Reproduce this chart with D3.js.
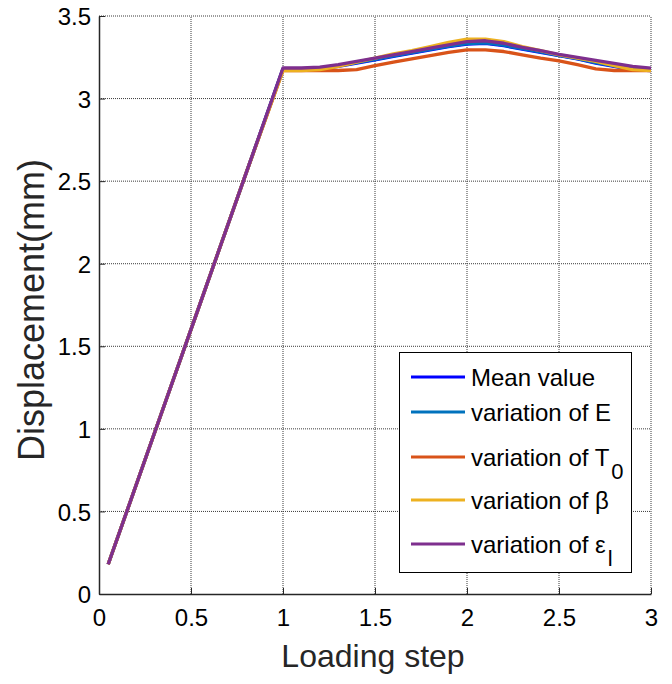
<!DOCTYPE html>
<html><head><meta charset="utf-8">
<script src="https://cdn.jsdelivr.net/npm/d3@7/dist/d3.min.js"></script>
<style>
html,body{margin:0;padding:0;background:#fff;}
text{font-family:"Liberation Sans",Arial,Helvetica,sans-serif;}
</style></head>
<body>
<svg id="chart" width="672" height="684"></svg>
<script>
// ---- data ----
const steps = [0.05, 0.3, 0.55, 0.8, 1.0, 1.1, 1.2, 1.3, 1.4, 1.5, 1.6, 1.7, 1.8, 1.9, 2.0, 2.1, 2.2, 2.3, 2.4, 2.5, 2.6, 2.7, 2.8, 2.9, 3.0];
const meanValue = [0.18, 0.97, 1.76, 2.55, 3.18, 3.18, 3.18, 3.195, 3.215, 3.235, 3.255, 3.275, 3.295, 3.315, 3.33, 3.335, 3.32, 3.30, 3.28, 3.26, 3.24, 3.215, 3.195, 3.175, 3.17];
const varE      = [0.18, 0.97, 1.76, 2.55, 3.18, 3.18, 3.182, 3.198, 3.218, 3.238, 3.258, 3.278, 3.298, 3.318, 3.333, 3.338, 3.323, 3.303, 3.283, 3.262, 3.242, 3.218, 3.198, 3.178, 3.172];
const varT0     = [0.18, 0.97, 1.76, 2.55, 3.17, 3.17, 3.17, 3.17, 3.175, 3.20, 3.22, 3.24, 3.26, 3.28, 3.295, 3.295, 3.285, 3.265, 3.245, 3.228, 3.205, 3.18, 3.17, 3.17, 3.17];
const varBeta   = [0.18, 0.97, 1.76, 2.55, 3.17, 3.17, 3.175, 3.195, 3.22, 3.245, 3.27, 3.29, 3.315, 3.34, 3.36, 3.36, 3.345, 3.315, 3.29, 3.265, 3.245, 3.225, 3.20, 3.175, 3.17];
const varEps    = [0.18, 0.97, 1.76, 2.55, 3.185, 3.185, 3.19, 3.205, 3.225, 3.245, 3.265, 3.285, 3.305, 3.325, 3.345, 3.35, 3.335, 3.31, 3.29, 3.268, 3.25, 3.232, 3.213, 3.195, 3.185];
const xTicks = [0, 0.5, 1, 1.5, 2, 2.5, 3];
const yTicks = [0, 0.5, 1, 1.5, 2, 2.5, 3, 3.5];
const seriesNames = ["Mean value", "variation of E", "variation of T", "variation of \u03b2", "variation of \u03b5"];
const seriesSubs  = ["", "", "0", "", "l"];
const seriesColors = ["#0000ff", "#0072bd", "#d95319", "#edb120", "#7e2f8e"];
const seriesValues = [meanValue, varE, varT0, varBeta, varEps];

// ---- layout ----
const svg = d3.select("#chart");
const L = 99, R = 651, T = 16, B = 594;
const x = d3.scaleLinear().domain([0, 3]).range([L, R]);
const y = d3.scaleLinear().domain([0, 3.5]).range([B, T]);

// grid
const grid = svg.append("g");
grid.selectAll("line.gx").data(xTicks.filter(d => d > 0)).join("line")
  .attr("x1", d => x(d)).attr("x2", d => x(d)).attr("y1", B).attr("y2", T)
  .attr("stroke", "#3a3a3a").attr("stroke-width", 1).attr("stroke-dasharray", "1,1");
grid.selectAll("line.gy").data(yTicks.filter(d => d > 0)).join("line")
  .attr("y1", d => y(d)).attr("y2", d => y(d)).attr("x1", L).attr("x2", R)
  .attr("stroke", "#3a3a3a").attr("stroke-width", 1).attr("stroke-dasharray", "1,1");

// axes
const xAxis = d3.axisBottom(x).tickValues(xTicks).tickFormat(d3.format("")).tickSizeInner(-6).tickSizeOuter(0).tickPadding(14);
const yAxis = d3.axisLeft(y).tickValues(yTicks).tickFormat(d3.format("")).tickSizeInner(-6).tickSizeOuter(0).tickPadding(8);
const gx = svg.append("g").attr("transform", `translate(0,${B})`).call(xAxis);
const gy = svg.append("g").attr("transform", `translate(${L},0)`).call(yAxis);
[gx, gy].forEach(g => {
  g.select(".domain").attr("stroke", "#262626").attr("stroke-width", 1.5);
  g.selectAll(".tick line").attr("stroke", "#262626").attr("stroke-width", 1);
  g.selectAll(".tick text").attr("fill", "#000").style("font-size", "24px").style("font-family", '"Liberation Sans",Arial,sans-serif');
});
gy.selectAll(".tick text").attr("dy", "0.36em");
gx.selectAll(".tick text").attr("dy", "0.75em");

// lines
const line = d3.line().x((d, i) => x(steps[i])).y(d => y(d));
seriesValues.forEach((vals, k) => {
  svg.append("path").datum(vals).attr("d", line)
    .attr("fill", "none").attr("stroke", seriesColors[k]).attr("stroke-width", 3.3)
    .attr("stroke-linejoin", "round");
});

// labels
svg.append("text").attr("x", (L + R) / 2 - 2).attr("y", 667).attr("text-anchor", "middle")
  .style("font-size", "32px").attr("fill", "#262626").text("Loading step");
svg.append("text").attr("transform", "translate(44,310) rotate(-90)").attr("text-anchor", "middle")
  .style("font-size", "36px").attr("fill", "#262626").text("Displacement(mm)");

// legend
const lg = svg.append("g");
lg.append("rect").attr("x", 399.5).attr("y", 352.5).attr("width", 232).attr("height", 220)
  .attr("fill", "#fff").attr("stroke", "#000").attr("stroke-width", 1);
const rowY = [377, 412, 457, 500, 544];
seriesNames.forEach((name, k) => {
  lg.append("line").attr("x1", 411).attr("x2", 465).attr("y1", rowY[k]).attr("y2", rowY[k])
    .attr("stroke", seriesColors[k]).attr("stroke-width", 3);
  const t = lg.append("text").attr("x", 471).attr("y", rowY[k] + 9).style("font-size", "24px").attr("fill", "#000");
  t.append("tspan").text(name);
  if (seriesSubs[k]) t.append("tspan").attr("dy", 13).style("font-size", "22px").attr("dx", 2).text(seriesSubs[k]);
});
</script>
</body></html>
